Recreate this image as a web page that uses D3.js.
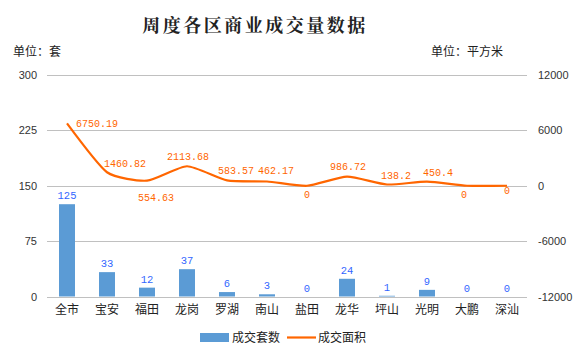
<!DOCTYPE html>
<html><head><meta charset="utf-8">
<script src="https://cdn.jsdelivr.net/npm/d3@7"></script>
<style>
body{margin:0;background:#fff;}
svg{display:block;}
</style></head><body>
<svg id="c" width="584" height="355"></svg>
<script>
const categories = ["全市","宝安","福田","龙岗","罗湖","南山","盐田","龙华","坪山","光明","大鹏","深汕"];
const units = [125,33,12,37,6,3,0,24,1,9,0,0];
const areas = [6750.19,1460.82,554.63,2113.68,583.57,462.17,0,986.72,138.2,450.4,0,0];
const areaLabels = ["6750.19","1460.82","554.63","2113.68","583.57","462.17","0","986.72","138.2","450.4","0","0"];
const leftTicks = [0,75,150,225,300];
const rightTicks = [-12000,-6000,0,6000,12000];
const seriesNames = ["成交套数","成交面积"];

// label placement offsets (style only)
const lineLabelOffset = [[9,0,"start"],[-3,-9,"start"],[9,17,"middle"],[1,-10,"middle"],[9,-10,"middle"],[9,-11,"middle"],[0,9,"middle"],[1,-10,"middle"],[9,-9,"middle"],[11,-9,"middle"],[-3,9,"middle"],[0,5,"middle"]];

const svg = d3.select("#c");
const m = {l:47, r:527, t:75, b:296.5};
const x = d3.scaleBand().domain(categories).range([m.l,m.r]).paddingInner(0.6).paddingOuter(0.3);
const xc = d => x(d) + x.bandwidth()/2;
const yL = d3.scaleLinear().domain([0,300]).range([m.b,m.t]);
const yR = d3.scaleLinear().domain([-12000,12000]).range([m.b,m.t]);

// title
svg.append("text").attr("x",255).attr("y",32).attr("text-anchor","middle")
  .style("font-family","'Noto Serif CJK SC','Noto Sans CJK SC',serif").style("font-weight","bold")
  .style("font-size","18px").style("letter-spacing","2.5px").attr("fill","#222").text("周度各区商业成交量数据");
svg.append("text").attr("x",13).attr("y",56).style("font-family","'Noto Sans CJK SC'").style("font-size","12px").attr("fill","#222").text("单位：套");
svg.append("text").attr("x",503).attr("y",56).attr("text-anchor","end").style("font-family","'Noto Sans CJK SC'").style("font-size","12px").attr("fill","#222").text("单位：平方米");

// gridlines
svg.append("g").selectAll("line").data(leftTicks).join("line")
  .attr("x1",m.l).attr("x2",m.r).attr("y1",d=>Math.round(yL(d))+0.5).attr("y2",d=>Math.round(yL(d))+0.5)
  .attr("stroke","#c0c0c0").attr("stroke-width",1);

// left axis
const la = svg.append("g").attr("transform",`translate(${m.l-10},0)`)
  .call(d3.axisLeft(yL).tickValues(leftTicks).tickSize(0).tickPadding(0));
la.select(".domain").remove();
la.selectAll("text").style("font-family","'Liberation Sans',Arial").style("font-size","11px").attr("fill","#333");

const ra = svg.append("g").attr("transform",`translate(${m.r+11},0)`)
  .call(d3.axisRight(yR).tickValues(rightTicks).tickSize(0).tickPadding(0).tickFormat(d=>String(d)));
ra.select(".domain").remove();
ra.selectAll("text").style("font-family","'Liberation Sans',Arial").style("font-size","11px").attr("fill","#333");

// x axis labels
const xa = svg.append("g").attr("transform",`translate(0,${m.b+8})`)
  .call(d3.axisBottom(x).tickSize(0).tickPadding(0));
xa.select(".domain").remove();
xa.selectAll("text").attr("dy","0.8em").style("font-family","'Noto Sans CJK SC'").style("font-size","12px").attr("fill","#222");

// bars
svg.append("g").selectAll("rect").data(units).join("rect")
  .attr("x",(d,i)=>x(categories[i])).attr("width",x.bandwidth())
  .attr("y",d=>yL(d)).attr("height",d=>m.b-yL(d)).attr("fill","#5b9bd5");
svg.append("g").selectAll("text").data(units).join("text")
  .attr("x",(d,i)=>xc(categories[i])).attr("y",d=>yL(d)-5).attr("text-anchor","middle")
  .style("font-family","'Liberation Mono',monospace").style("font-size","10.5px").attr("fill","#3366ff").text(d=>d);

// line
const line = d3.line().x((d,i)=>xc(categories[i])).y(d=>yR(d)).curve(d3.curveCardinal.tension(0.4));
svg.append("path").datum(areas).attr("d",line).attr("fill","none").attr("stroke","#ff6600").attr("stroke-width",2.2).attr("stroke-linejoin","round");
svg.append("g").selectAll("text").data(areas).join("text")
  .attr("x",(d,i)=>xc(categories[i])+lineLabelOffset[i][0])
  .attr("y",(d,i)=>yR(d)+lineLabelOffset[i][1]).attr("dy","0.35em")
  .attr("text-anchor",(d,i)=>lineLabelOffset[i][2])
  .style("font-family","'Liberation Mono',monospace").style("font-size","10px").attr("fill","#ff6600")
  .text((d,i)=>areaLabels[i]);

// legend
const lg = svg.append("g");
lg.append("rect").attr("x",200).attr("y",333).attr("width",29).attr("height",9).attr("fill","#5b9bd5");
lg.append("text").attr("x",232).attr("y",342).style("font-family","'Noto Sans CJK SC'").style("font-size","12px").attr("fill","#222").text(seriesNames[0]);
lg.append("line").attr("x1",287).attr("x2",316).attr("y1",337.5).attr("y2",337.5).attr("stroke","#ff6600").attr("stroke-width",2.2);
lg.append("text").attr("x",318).attr("y",342).style("font-family","'Noto Sans CJK SC'").style("font-size","12px").attr("fill","#222").text(seriesNames[1]);
</script>
</body></html>
